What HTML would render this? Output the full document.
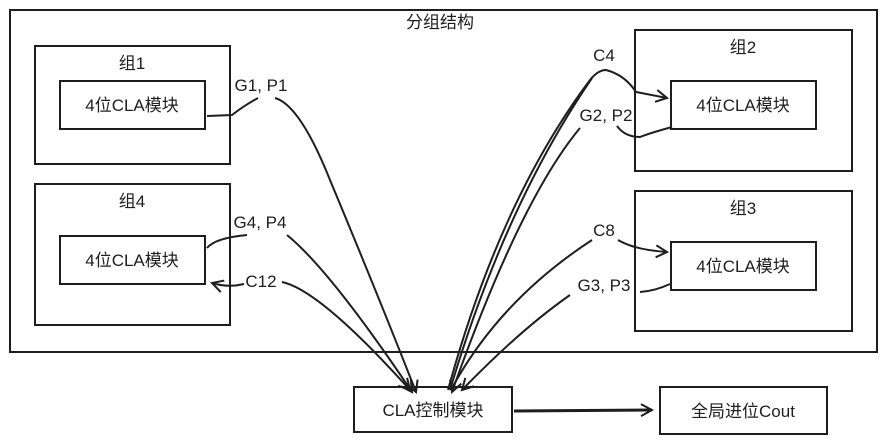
<!DOCTYPE html>
<html><head><meta charset="utf-8"><style>
html,body{margin:0;padding:0;background:#fff}
svg{display:block}
text{font-family:"Liberation Sans","Noto Sans CJK SC",sans-serif;fill:#1e1e1e}
</style></head><body>
<svg width="887" height="445" viewBox="0 0 887 445" xmlns="http://www.w3.org/2000/svg">
<defs>
<marker id="a" markerWidth="14" markerHeight="14" refX="12" refY="7" orient="auto" markerUnits="userSpaceOnUse">
<path d="M1,1 L12,7 L1,13" fill="none" stroke="#1e1e1e" stroke-width="2"/>
</marker>
</defs>
<g fill="none" stroke="#1e1e1e" stroke-width="2">
<rect x="10" y="10" width="867" height="342"/>
<rect x="35" y="46" width="195" height="118"/>
<rect x="60" y="81" width="145" height="48"/>
<rect x="35" y="184" width="195" height="141"/>
<rect x="60" y="236" width="145" height="48"/>
<rect x="635" y="30" width="217" height="141"/>
<rect x="671" y="81" width="145" height="48"/>
<rect x="635" y="191" width="217" height="140"/>
<rect x="671" y="242" width="145" height="48"/>
<rect x="354" y="387" width="158" height="45"/>
<rect x="660" y="387" width="167" height="47"/>
</g>
<g fill="none" stroke="#1e1e1e" stroke-width="2">
<path d="M207,116 L232,115 Q245,105 258,98"/>
<path d="M275,98 Q300,105 330,180 Q380,300 416,392" marker-end="url(#a)"/>
<path d="M207,248 Q215,238 247,235"/>
<path d="M287,235 Q330,270 412,392" marker-end="url(#a)"/>
<path d="M244,284 Q228,288 212,283" marker-end="url(#a)"/>
<path d="M282,282 Q320,290 410,390" marker-end="url(#a)"/>
<path d="M448,390 Q500,200 590,80 Q598,70 606,70 Q625,75 636,92 L667,98" marker-end="url(#a)"/>
<path d="M450,390 Q505,205 592,78"/>
<path d="M672,127 Q650,133 640,137 Q625,137 617,126"/>
<path d="M580,128 Q520,200 452,392" marker-end="url(#a)"/>
<path d="M452,388 Q500,300 592,240"/>
<path d="M618,240 Q635,250 667,252" marker-end="url(#a)"/>
<path d="M670,284 Q655,291 640,292"/>
<path d="M570,295 Q520,330 462,390" marker-end="url(#a)"/>
<path d="M514,411 L652,410" stroke-width="3" marker-end="url(#a)"/>
</g>
<g font-size="17" text-anchor="middle">
<text x="440" y="28">分组结构</text>
<text x="132" y="69">组1</text>
<text x="132" y="207">组4</text>
<text x="743" y="53">组2</text>
<text x="743" y="214">组3</text>
<text x="132" y="111">4位CLA模块</text>
<text x="132" y="266">4位CLA模块</text>
<text x="743" y="111">4位CLA模块</text>
<text x="743" y="272">4位CLA模块</text>
<text x="433" y="416">CLA控制模块</text>
<text x="743" y="417">全局进位Cout</text>
<text x="261" y="91">G1, P1</text>
<text x="260" y="228">G4, P4</text>
<text x="261" y="287">C12</text>
<text x="604" y="61">C4</text>
<text x="606" y="121">G2, P2</text>
<text x="604" y="236">C8</text>
<text x="604" y="291">G3, P3</text>
</g>
</svg>
</body></html>
